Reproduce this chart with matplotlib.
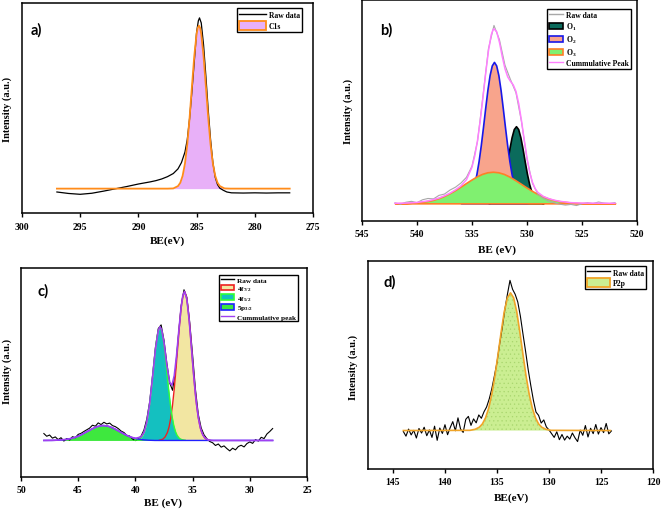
import matplotlib
matplotlib.use("Agg")
import matplotlib.pyplot as plt
from matplotlib.lines import Line2D
from matplotlib.patches import Patch

# =============================================================================
# Data (intensity in % of panel height)
# =============================================================================

# --- a) C1s ------------------------------------------------------------------
a_raw_be = [297.0, 296.0, 295.0, 294.0, 293.0, 292.0, 291.0, 290.0, 289.0, 288.5,
            288.0, 287.5, 287.0, 286.6, 286.3, 286.0, 285.8, 285.6, 285.4, 285.2,
            285.0, 284.85, 284.75, 284.6, 284.4, 284.2, 284.0, 283.8, 283.6, 283.4,
            283.2, 283.0, 282.7, 282.4, 282.0, 281.0, 280.0, 279.0, 278.0, 277.0]
a_raw_int = [10.0, 9.3, 8.9, 9.4, 10.4, 11.5, 12.6, 13.8, 14.8, 15.4,
             16.2, 17.3, 18.8, 21.0, 24.0, 29.0, 35.0, 45.0, 58.0, 72.0,
             86.0, 91.5, 92.9, 90.5, 80.0, 65.0, 49.0, 35.0, 24.0, 17.0,
             13.5, 11.8, 10.8, 10.0, 9.6, 9.5, 9.6, 9.5, 9.6, 9.6]

a_c1s_be = [297.0, 287.5, 287.0, 286.6, 286.4, 286.2, 286.0, 285.8, 285.6, 285.4,
            285.2, 285.0, 284.9, 284.8, 284.7, 284.6, 284.4, 284.2, 284.0, 283.8,
            283.6, 283.4, 283.2, 283.0, 282.6, 282.1, 277.0]
a_c1s_int = [11.6, 11.6, 11.7, 12.8, 14.4, 17.7, 23.5, 32.7, 45.4, 60.2,
             74.6, 85.3, 88.2, 89.2, 88.2, 85.3, 74.6, 60.2, 45.4, 32.7,
             23.5, 17.7, 14.4, 12.8, 11.7, 11.6, 11.6]
a_base = 11.6

# --- b) O1s ------------------------------------------------------------------
b_raw_be = [542.0, 541.5, 541.0, 540.5, 540.0, 539.5, 539.0, 538.5, 538.0, 537.5,
            537.0, 536.5, 536.0, 535.5, 535.0, 534.5, 534.0, 533.5, 533.0, 532.5,
            532.0, 531.5, 531.0, 530.5, 530.0, 529.5, 529.0, 528.5, 528.0, 527.5,
            527.0, 526.5, 526.0, 525.5, 525.0, 524.5, 524.0, 523.5, 523.0, 522.5,
            522.0]
b_raw_int = [8.2, 7.6, 8.5, 8.9, 8.3, 9.6, 10.2, 10.0, 11.6, 12.2,
             14.0, 15.3, 17.2, 19.8, 24.8, 36.0, 56.5, 78.0, 88.5, 82.0,
             70.5, 64.0, 58.0, 45.0, 28.0, 17.0, 12.0, 10.2, 9.0, 8.2,
             7.6, 7.2, 7.5, 7.0, 7.8, 8.3, 7.9, 8.6, 8.1, 7.9,
             8.3]

b_o1_be = [533.5, 533.1, 532.8, 532.6, 532.4, 532.2, 532.0, 531.8, 531.6, 531.4,
           531.2, 531.0, 530.8, 530.6, 530.4, 530.2, 530.0, 529.8, 529.6, 529.4,
           529.2, 528.9, 528.5]
b_o1_int = [8.1, 8.5, 9.5, 11.0, 13.3, 16.7, 21.3, 26.8, 32.7, 37.9,
            41.6, 42.9, 41.6, 37.9, 32.7, 26.8, 21.3, 16.7, 13.3, 11.0,
            9.5, 8.5, 8.1]

b_o2_be = [536.0, 535.6, 535.3, 535.0, 534.8, 534.6, 534.4, 534.2, 534.0, 533.8,
           533.6, 533.4, 533.2, 533.0, 532.8, 532.6, 532.4, 532.2, 532.0, 531.8,
           531.6, 531.4, 531.2, 531.0, 530.7, 530.4, 530.0]
b_o2_int = [8.25, 9.0, 10.4, 13.4, 16.6, 21.2, 27.1, 34.3, 42.5, 51.1,
            59.3, 66.0, 70.4, 72.0, 70.4, 66.0, 59.3, 51.1, 42.5, 34.3,
            27.1, 21.2, 16.6, 13.4, 10.4, 9.0, 8.25]

b_o3_be = [542.0, 541.1, 540.1, 539.1, 538.6, 538.1, 537.6, 537.1, 536.6, 536.1,
           535.6, 535.1, 534.6, 534.1, 533.6, 533.1, 532.6, 532.1, 531.6, 531.1,
           530.6, 530.1, 529.6, 529.1, 528.6, 528.1, 527.6, 527.1, 526.1, 525.1,
           524.1, 522.0]
b_o3_int = [8.0, 8.1, 8.4, 9.0, 9.5, 10.25, 11.2, 12.4, 13.8, 15.35,
            17.0, 18.6, 20.1, 21.3, 22.04, 22.3, 22.04, 21.3, 20.1, 18.6,
            17.0, 15.35, 13.8, 12.4, 11.2, 10.25, 9.5, 9.0, 8.4, 8.1,
            8.0, 8.0]

b_sum_be = [542.0, 541.0, 540.0, 539.0, 538.5, 538.0, 537.5, 537.0, 536.5, 536.0,
            535.5, 535.0, 534.75, 534.5, 534.25, 534.0, 533.75, 533.5, 533.25, 533.1,
            533.0, 532.75, 532.5, 532.25, 532.0, 531.75, 531.5, 531.25, 531.0, 530.75,
            530.5, 530.25, 530.0, 529.75, 529.5, 529.25, 529.0, 528.5, 528.0, 527.5,
            527.0, 526.0, 525.0, 522.0]
b_sum_int = [8.0, 8.1, 8.4, 9.1, 9.7, 10.4, 11.4, 12.6, 14.1, 15.9,
             18.7, 24.4, 29.4, 36.3, 45.4, 56.0, 67.1, 77.1, 84.2, 86.4,
             87.0, 85.6, 80.8, 74.5, 68.9, 65.2, 63.2, 61.6, 58.6, 53.1,
             45.4, 36.7, 28.6, 21.9, 17.5, 14.6, 12.9, 11.1, 10.1, 9.4,
             8.9, 8.3, 8.1, 8.0]
b_base = 8.0

# --- c) 4f / 5p ----------------------------------------------------------------
c_raw_be = [48.0, 47.75, 47.5, 47.25, 47.0, 46.75, 46.5, 46.25, 46.0, 45.75,
            45.5, 45.25, 45.0, 44.75, 44.5, 44.25, 44.0, 43.75, 43.5, 43.25,
            43.0, 42.75, 42.5, 42.25, 42.0, 41.75, 41.5, 41.25, 41.0, 40.75,
            40.5, 40.25, 40.0, 39.75, 39.5, 39.25, 39.0, 38.75, 38.5, 38.25,
            38.0, 37.75, 37.5, 37.25, 37.0, 36.75, 36.5, 36.25, 36.0, 35.75,
            35.5, 35.25, 35.0, 34.75, 34.5, 34.25, 34.0, 33.75, 33.5, 33.25,
            33.0, 32.75, 32.5, 32.25, 32.0, 31.75, 31.5, 31.25, 31.0, 30.75,
            30.5, 30.25, 30.0, 29.75, 29.5, 29.25, 29.0, 28.75, 28.5, 28.25,
            28.0]
c_raw_int = [20.8, 19.5, 20.1, 18.6, 19.2, 17.9, 18.8, 17.2, 18.4, 17.7,
             19.3, 18.8, 20.4, 20.9, 21.8, 22.6, 23.4, 24.8, 24.3, 25.9,
             25.1, 26.2, 25.4, 25.8, 24.6, 24.1, 23.2, 22.0, 21.3, 19.9,
             19.6, 18.2, 17.4, 18.3, 19.6, 22.5, 27.8, 36.0, 48.5, 62.0,
             71.0, 72.8, 65.5, 54.5, 45.0, 41.5, 51.0, 67.0, 82.0, 89.6,
             86.0, 74.0, 58.5, 42.0, 30.0, 23.5, 20.2, 18.3, 17.0, 16.4,
             15.1, 15.8, 14.3, 14.9, 13.6, 12.5, 13.8, 13.0, 14.6, 15.2,
             14.4, 16.0, 16.8, 16.1, 17.9, 17.2, 19.0, 18.4, 20.6, 21.8,
             23.2]

c_f72_be = [37.9, 37.6, 37.4, 37.2, 37.05, 36.9, 36.75, 36.6, 36.45, 36.3,
            36.15, 36.0, 35.85, 35.7, 35.55, 35.4, 35.25, 35.1, 34.95, 34.8,
            34.65, 34.5, 34.35, 34.2, 34.0, 33.8, 33.5]
c_f72_int = [17.6, 18.1, 19.2, 21.3, 24.1, 28.5, 34.5, 42.3, 51.7, 62.1,
             72.2, 80.8, 86.6, 88.7, 86.6, 80.8, 72.2, 62.1, 51.7, 42.3,
             34.5, 28.5, 24.1, 21.3, 19.2, 18.1, 17.6]

c_f52_be = [40.05, 39.75, 39.55, 39.35, 39.2, 39.05, 38.9, 38.75, 38.6, 38.45,
            38.3, 38.15, 38.0, 37.85, 37.7, 37.55, 37.4, 37.25, 37.1, 36.95,
            36.8, 36.65, 36.5, 36.35, 36.15, 35.95, 35.65]
c_f52_int = [17.6, 17.9, 18.5, 19.9, 21.8, 24.8, 29.2, 35.1, 42.3, 50.4,
             58.4, 65.3, 70.0, 71.7, 70.0, 65.3, 58.4, 50.4, 42.3, 35.1,
             29.2, 24.8, 21.8, 19.9, 18.5, 17.9, 17.6]

c_p32_be = [48.0, 47.3, 46.8, 46.3, 45.8, 45.3, 44.8, 44.3, 43.8, 43.3,
            42.8, 42.3, 41.8, 41.3, 40.8, 40.3, 39.8, 39.3, 38.8, 38.3,
            28.0]
c_p32_int = [17.5, 17.5, 17.6, 17.8, 18.2, 18.9, 20.0, 21.5, 23.0, 24.2,
             24.7, 24.2, 23.0, 21.5, 20.0, 18.9, 18.2, 17.8, 17.6, 17.5,
             17.5]

c_sum_be = [48.0, 47.0, 46.0, 45.5, 45.0, 44.5, 44.0, 43.5, 43.0, 42.5,
            42.0, 41.5, 41.0, 40.5, 40.0, 39.5, 39.25, 39.0, 38.75, 38.5,
            38.25, 38.0, 37.85, 37.7, 37.5, 37.25, 37.0, 36.8, 36.6, 36.4,
            36.2, 36.0, 35.85, 35.7, 35.5, 35.3, 35.1, 34.9, 34.7, 34.5,
            34.3, 34.1, 33.9, 33.6, 33.2, 28.0]
c_sum_int = [17.5, 17.6, 18.0, 18.6, 19.5, 20.9, 22.4, 23.8, 24.6, 24.5,
             23.6, 22.1, 20.6, 19.3, 18.5, 19.2, 21.3, 26.3, 35.2, 47.6,
             60.9, 70.1, 71.9, 70.4, 64.3, 53.5, 45.3, 43.9, 48.5, 58.1,
             70.1, 81.3, 86.8, 88.8, 85.1, 75.3, 62.1, 48.5, 36.9, 28.5,
             23.1, 20.1, 18.6, 17.7, 17.5, 17.5]
c_base = 17.5

# --- d) P2p ------------------------------------------------------------------
d_raw_be = [144.0, 143.75, 143.5, 143.25, 143.0, 142.75, 142.5, 142.25, 142.0, 141.75,
            141.5, 141.25, 141.0, 140.75, 140.5, 140.25, 140.0, 139.75, 139.5, 139.25,
            139.0, 138.75, 138.5, 138.25, 138.0, 137.75, 137.5, 137.25, 137.0, 136.75,
            136.5, 136.25, 136.0, 135.75, 135.5, 135.25, 135.0, 134.75, 134.5, 134.25,
            134.0, 133.75, 133.5, 133.25, 133.0, 132.75, 132.5, 132.25, 132.0, 131.75,
            131.5, 131.25, 131.0, 130.75, 130.5, 130.25, 130.0, 129.75, 129.5, 129.25,
            129.0, 128.75, 128.5, 128.25, 128.0, 127.75, 127.5, 127.25, 127.0, 126.75,
            126.5, 126.25, 126.0, 125.75, 125.5, 125.25, 125.0, 124.75, 124.5, 124.25,
            124.0]
d_raw_int = [18.0, 15.8, 19.2, 16.4, 18.6, 14.9, 19.5, 17.3, 20.1, 16.0,
             18.8, 15.2, 20.6, 13.8, 19.7, 17.1, 21.3, 16.5, 19.9, 22.8,
             18.4, 24.6, 19.2, 17.6, 23.9, 25.3, 21.0, 24.1, 22.2, 26.0,
             24.4, 27.5, 29.8, 33.6, 38.5, 44.7, 51.2, 60.0, 67.8, 76.5,
             83.9, 90.7, 86.4, 84.0, 80.3, 73.5, 64.9, 56.6, 47.8, 40.2,
             33.1, 27.4, 25.8, 22.1, 23.6, 20.2, 18.8, 17.0, 15.2, 17.9,
             14.1, 16.6, 13.9, 15.8, 14.4, 17.3, 15.0, 13.2, 18.7, 16.2,
             20.9, 15.4, 19.6, 17.0, 21.4, 16.8, 19.9, 17.5, 21.9, 16.9,
             18.3]

d_p2p_be = [144.0, 137.6, 137.1, 136.7, 136.4, 136.1, 135.8, 135.5, 135.2, 134.9,
            134.6, 134.3, 134.0, 133.7, 133.4, 133.1, 132.8, 132.5, 132.2, 131.9,
            131.6, 131.3, 131.0, 130.7, 130.3, 129.8, 124.1]
d_p2p_int = [18.5, 18.6, 19.1, 20.1, 21.7, 24.6, 29.2, 35.9, 44.6, 55.0,
             65.8, 75.6, 82.3, 84.7, 82.3, 75.6, 65.8, 55.0, 44.6, 35.9,
             29.2, 24.6, 21.7, 20.1, 19.1, 18.6, 18.5]
d_base = 18.5


# =============================================================================
# Style
# =============================================================================

plt.rcParams["font.family"] = ["Liberation Serif", "DejaVu Serif"]
plt.rcParams["font.weight"] = "bold"
plt.rcParams["mathtext.fontset"] = "custom"
plt.rcParams["mathtext.rm"] = "Liberation Serif:bold"
plt.rcParams["mathtext.it"] = "Liberation Serif:bold"
plt.rcParams["mathtext.bf"] = "Liberation Serif:bold"
plt.rcParams["hatch.linewidth"] = 0.4


def style_axes(ax, xlim, xticks, letter, letter_xy, ylab_xy, xlabel, xlab_xy, pad):
    ax.set_xlim(*xlim)
    ax.set_ylim(0, 100)
    ax.set_xticks(xticks)
    ax.set_yticks([])
    ax.tick_params(axis="x", direction="out", length=3, width=1.0,
                   labelsize=7, pad=pad)
    for s in ax.spines.values():
        s.set_linewidth(1.1)
    ax.set_ylabel("Intensity (a.u.)", fontsize=7.5, fontweight="bold")
    ax.yaxis.set_label_coords(*ylab_xy)
    ax.set_xlabel(xlabel, fontsize=8, fontweight="bold")
    ax.xaxis.set_label_coords(*xlab_xy)
    ax.text(letter_xy[0], letter_xy[1], letter, transform=ax.transAxes,
            family="Lato", fontweight="bold", fontsize=10.5, ha="left", va="center")


def add_legend(ax, handles, labels, anchor, hl, hh, ls, fs=5.5):
    leg = ax.legend(handles, labels, loc="upper right", bbox_to_anchor=anchor,
                    fontsize=fs, fancybox=False, framealpha=1, edgecolor="black",
                    handlelength=hl, handleheight=hh, labelspacing=ls,
                    borderpad=0.25, handletextpad=0.4, borderaxespad=0)
    leg.get_frame().set_linewidth(1.0)
    return leg


fig = plt.figure(figsize=(6.62, 5.10), dpi=100)
ax_a = fig.add_axes([0.0332, 0.5804, 0.4396, 0.4118])
ax_b = fig.add_axes([0.5468, 0.5647, 0.4154, 0.4333])
ax_c = fig.add_axes([0.0317, 0.0627, 0.4320, 0.4098])
ax_d = fig.add_axes([0.5559, 0.0784, 0.4305, 0.4078])

# -----------------------------------------------------------------------------
# a)
# -----------------------------------------------------------------------------
ax_a.plot(a_raw_be, a_raw_int, color="black", lw=0.9)
ax_a.fill_between(a_c1s_be, a_c1s_int, a_base, color="#e8b0f8", lw=0)
ax_a.plot(a_c1s_be, a_c1s_int, color="#ff8c1a", lw=1.3)
style_axes(ax_a, (300, 275), [300, 295, 290, 285, 280, 275], "a)", (0.031, 0.876),
           (-0.034, 0.5), "BE(eV)", (0.50, -0.105), 3.5)
add_legend(ax_a,
           [Line2D([], [], color="black", lw=1),
            Patch(facecolor="#e8b0f8", edgecolor="#ff8c1a", lw=1.3)],
           ["Raw data", "C1s"], (0.962, 0.976), 3.5, 1.5, 0.2)

# -----------------------------------------------------------------------------
# b)  fills are outlined all round, O3 sits on top and hides the other feet
# -----------------------------------------------------------------------------
ax_b.plot(b_raw_be, b_raw_int, color="#a8a8a8", lw=0.8)
ax_b.fill_between(b_o1_be, b_o1_int, b_base, facecolor="#0b6b5c",
                  edgecolor="black", lw=1.2)
ax_b.fill_between(b_o2_be, b_o2_int, b_base, facecolor="#f8a48c",
                  edgecolor="#1818e8", lw=1.2)
ax_b.fill_between(b_o3_be, b_o3_int, b_base, facecolor="#80f070",
                  edgecolor="#ff7f27", lw=1.2)
ax_b.plot(b_sum_be, b_sum_int, color="#ff80ff", lw=1.1)
style_axes(ax_b, (545, 520), [545, 540, 535, 530, 525, 520], "b)", (0.065, 0.869),
           (-0.033, 0.5), "BE (eV)", (0.49, -0.104), 3.0)
add_legend(ax_b,
           [Line2D([], [], color="#a8a8a8", lw=1),
            Patch(facecolor="#0b6b5c", edgecolor="black", lw=1.2),
            Patch(facecolor="#f8a48c", edgecolor="#1818e8", lw=1.2),
            Patch(facecolor="#80f070", edgecolor="#ff7f27", lw=1.2),
            Line2D([], [], color="#ff80ff", lw=1)],
           ["Raw data", "O$_1$", "O$_2$", "O$_3$", "Cummulative Peak"],
           (0.978, 0.959), 1.9, 0.85, 0.22)

# -----------------------------------------------------------------------------
# c)
# -----------------------------------------------------------------------------
ax_c.plot(c_raw_be, c_raw_int, color="black", lw=0.8)
ax_c.fill_between(c_f72_be, c_f72_int, c_base, color="#f2e6a2", lw=0)
ax_c.plot(c_f72_be, c_f72_int, color="#ee2020", lw=1.0)
ax_c.fill_between(c_f52_be, c_f52_int, c_base, color="#14c0c0", lw=0)
ax_c.plot(c_f52_be, c_f52_int, color="#33ff33", lw=1.0)
ax_c.fill_between(c_p32_be, c_p32_int, c_base, color="#3ee83e", lw=0)
ax_c.plot(c_p32_be, c_p32_int, color="#2020ff", lw=1.0)
ax_c.plot(c_sum_be, c_sum_int, color="#a040f0", lw=1.2)
style_axes(ax_c, (50, 25), [50, 45, 40, 35, 30, 25], "c)", (0.056, 0.895),
           (-0.031, 0.512), "BE (eV)", (0.497, -0.096), 2.5)
add_legend(ax_c,
           [Line2D([], [], color="black", lw=1),
            Patch(facecolor="#f2e6a2", edgecolor="#ee2020", lw=1.2),
            Patch(facecolor="#14c0c0", edgecolor="#33ff33", lw=1.2),
            Patch(facecolor="#3ee83e", edgecolor="#2020ff", lw=1.2),
            Line2D([], [], color="#a040f0", lw=1)],
           ["Raw data", "4f$_{7/2}$", "4f$_{5/2}$", "5p$_{3/2}$", "Cummulative peak"],
           (0.969, 0.967), 1.9, 0.8, 0.12, fs=5.2)

# -----------------------------------------------------------------------------
# d)
# -----------------------------------------------------------------------------
ax_d.plot(d_raw_be, d_raw_int, color="black", lw=0.8)
ax_d.fill_between(d_p2p_be, d_p2p_int, d_base, facecolor="#cbee92",
                  edgecolor="#a9d66e", hatch="....", lw=0)
ax_d.plot(d_p2p_be, d_p2p_int, color="#f0a428", lw=1.2)
style_axes(ax_d, (147.4, 120), [145, 140, 135, 130, 125, 120], "d)", (0.053, 0.904),
           (-0.035, 0.495), "BE(eV)", (0.505, -0.11), 3.0)
add_legend(ax_d,
           [Line2D([], [], color="black", lw=1),
            Patch(facecolor="#cbee92", edgecolor="#f0a428", lw=1.3)],
           ["Raw data", "P2p"], (0.975, 0.976), 3.0, 1.4, 0.2)

fig.savefig("out.png", dpi=100)
